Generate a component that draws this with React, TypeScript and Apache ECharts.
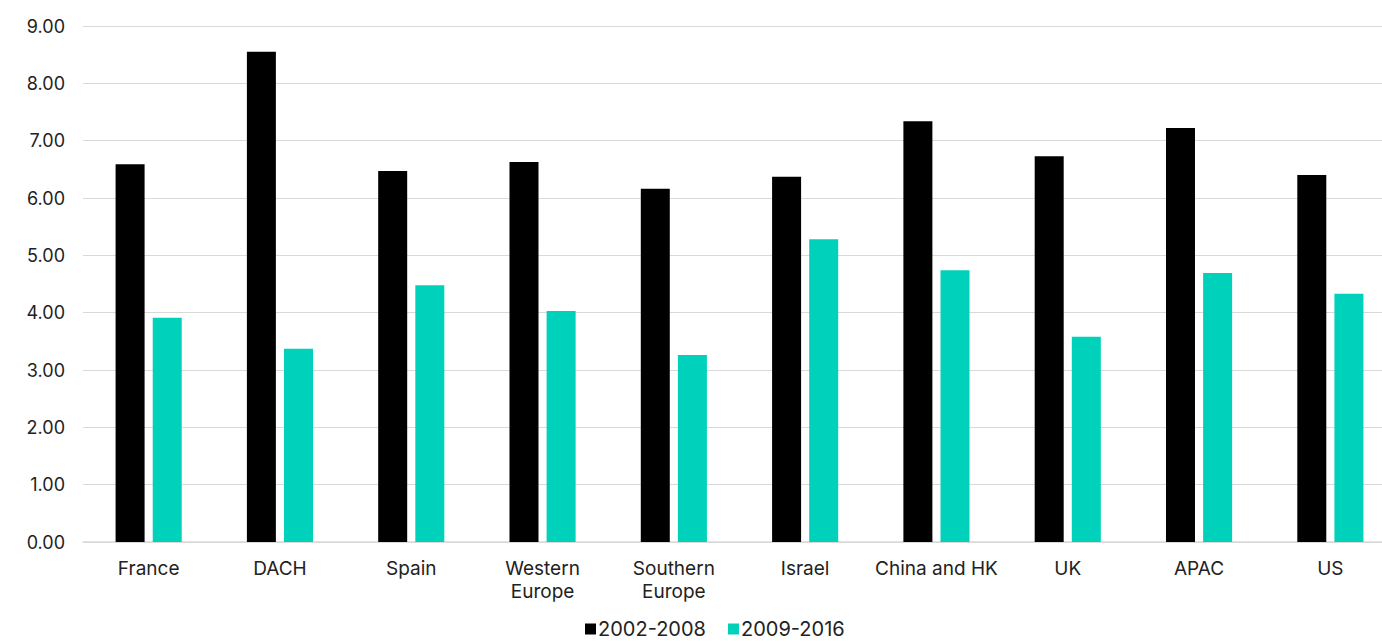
import React, { useEffect, useRef } from "react";
import * as echarts from "echarts";

const categories = ["France", "DACH", "Spain", "Western\nEurope", "Southern\nEurope", "Israel", "China and HK", "UK", "APAC", "US"];
const series2002 = [6.59, 8.55, 6.47, 6.63, 6.16, 6.37, 7.34, 6.73, 7.22, 6.40];
const series2009 = [3.91, 3.37, 4.48, 4.03, 3.26, 5.28, 4.74, 3.58, 4.69, 4.33];
const seriesNames = ["2002-2008", "2009-2016"];

export default function App() {
  const ref = useRef<HTMLDivElement>(null);
  useEffect(() => {
    if (!ref.current) return;
    const chart = echarts.init(ref.current, null, { renderer: "svg" });
    const font = "Inter";
    chart.setOption({
      animation: false,
      grid: { left: 83, width: 1313, top: 26, bottom: 100, containLabel: false, outerBoundsMode: "none" },
      legend: {
        bottom: -2,
        left: 580,
        itemWidth: 11,
        itemHeight: 11,
        itemGap: 22,
        icon: "rect",
        textStyle: { fontFamily: font, fontSize: 20, color: "#222", padding: [0, 0, 0, -3] },
        data: seriesNames,
      },
      xAxis: {
        type: "category",
        data: categories,
        axisLine: { show: true, lineStyle: { color: "#d9d9d9", width: 1.5 } },
        axisTick: { show: false },
        axisLabel: { interval: 0, fontFamily: font, fontSize: 19, color: "#222", margin: 15, lineHeight: 23 },
      },
      yAxis: {
        type: "value",
        min: 0,
        max: 9,
        interval: 1,
        axisLine: { show: false },
        axisTick: { show: false },
        splitLine: { lineStyle: { color: "#d9d9d9", width: 1 } },
        axisLabel: {
          fontFamily: font,
          fontSize: 18,
          color: "#222",
          margin: 18,
          formatter: (v: number) => v.toFixed(2),
        },
      },
      series: [
        {
          name: seriesNames[0],
          type: "bar",
          data: series2002,
          barWidth: 29,
          barGap: "28%",
          itemStyle: { color: "#000000" },
        },
        {
          name: seriesNames[1],
          type: "bar",
          data: series2009,
          barWidth: 29,
          itemStyle: { color: "#00d1bb" },
        },
      ],
    });
    return () => chart.dispose();
  }, []);
  return <div ref={ref} style={{ width: 1382, height: 642, position: "absolute", left: 0, top: 0 }} />;
}
